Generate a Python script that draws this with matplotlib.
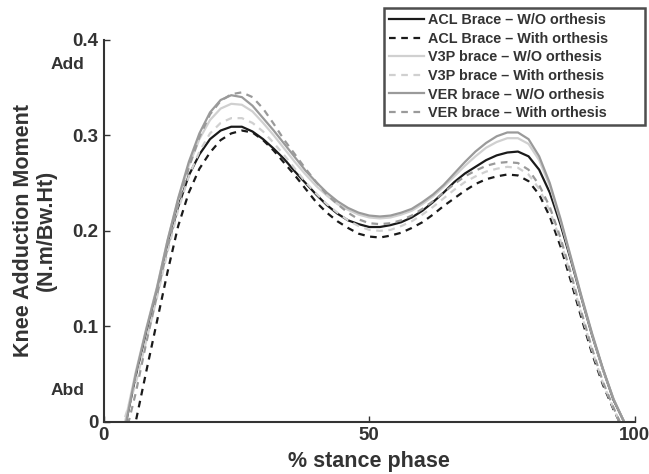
import matplotlib
matplotlib.use('Agg')
import matplotlib.pyplot as plt

plt.rcParams['font.family'] = ['Liberation Sans', 'DejaVu Sans']
plt.rcParams['font.weight'] = 'bold'

# % stance phase sample points (every 2 %)
stance = list(range(4, 99, 2))

acl_wo = [-0.005, 0.048, 0.095, 0.138, 0.185, 0.225, 0.258, 0.280,
          0.296, 0.305, 0.309, 0.309, 0.304, 0.296, 0.286, 0.275,
          0.262, 0.250, 0.238, 0.227, 0.218, 0.211, 0.207, 0.204,
          0.204, 0.206, 0.209, 0.214, 0.221, 0.230, 0.240, 0.251,
          0.260, 0.267, 0.274, 0.279, 0.282, 0.283, 0.278, 0.264,
          0.240, 0.207, 0.169, 0.129, 0.090, 0.055, 0.023, 0.000]
acl_with = [-0.020, 0.000, 0.053, 0.105, 0.157, 0.205, 0.240, 0.265,
            0.282, 0.295, 0.302, 0.305, 0.303, 0.295, 0.284, 0.271,
            0.258, 0.244, 0.230, 0.219, 0.210, 0.203, 0.197, 0.194,
            0.193, 0.195, 0.198, 0.203, 0.209, 0.217, 0.226, 0.234,
            0.242, 0.249, 0.254, 0.257, 0.259, 0.258, 0.252, 0.238,
            0.215, 0.184, 0.147, 0.108, 0.071, 0.039, 0.013, -0.010]
v3p_wo = [0.000, 0.052, 0.098, 0.141, 0.190, 0.233, 0.268, 0.296,
          0.316, 0.328, 0.333, 0.332, 0.325, 0.313, 0.300, 0.286,
          0.272, 0.259, 0.247, 0.237, 0.228, 0.222, 0.217, 0.214,
          0.213, 0.214, 0.217, 0.221, 0.228, 0.236, 0.246, 0.257,
          0.268, 0.278, 0.287, 0.293, 0.297, 0.297, 0.291, 0.274,
          0.247, 0.211, 0.171, 0.130, 0.091, 0.055, 0.024, 0.000]
v3p_with = [0.005, 0.040, 0.085, 0.130, 0.178, 0.222, 0.257, 0.283,
            0.302, 0.313, 0.318, 0.318, 0.313, 0.304, 0.292, 0.279,
            0.265, 0.251, 0.239, 0.228, 0.219, 0.211, 0.205, 0.201,
            0.200, 0.201, 0.205, 0.210, 0.217, 0.225, 0.234, 0.243,
            0.251, 0.257, 0.262, 0.265, 0.267, 0.266, 0.259, 0.244,
            0.221, 0.190, 0.152, 0.112, 0.074, 0.041, 0.014, -0.010]
ver_wo = [-0.006, 0.050, 0.097, 0.140, 0.190, 0.234, 0.272, 0.302,
          0.324, 0.337, 0.342, 0.340, 0.331, 0.318, 0.305, 0.291,
          0.277, 0.263, 0.251, 0.240, 0.231, 0.224, 0.219, 0.216,
          0.215, 0.216, 0.219, 0.223, 0.230, 0.238, 0.248, 0.260,
          0.272, 0.283, 0.292, 0.299, 0.303, 0.303, 0.296, 0.278,
          0.250, 0.213, 0.172, 0.131, 0.092, 0.056, 0.024, 0.000]
ver_with = [-0.015, 0.030, 0.083, 0.132, 0.182, 0.227, 0.266, 0.298,
            0.322, 0.336, 0.343, 0.345, 0.340, 0.328, 0.312, 0.295,
            0.280, 0.265, 0.251, 0.238, 0.228, 0.219, 0.212, 0.208,
            0.207, 0.208, 0.211, 0.216, 0.223, 0.231, 0.240, 0.249,
            0.257, 0.263, 0.268, 0.271, 0.272, 0.271, 0.264, 0.248,
            0.225, 0.193, 0.155, 0.114, 0.076, 0.042, 0.015, -0.010]

fig = plt.figure(figsize=(6.49, 4.74), dpi=100)
ax = fig.add_axes([0.160, 0.110, 0.818, 0.806])

dash = (0, (3, 2.5))
ax.plot(stance, acl_wo, color='#1a1a1a', lw=1.6, label='ACL Brace \u2013 W/O orthesis')
ax.plot(stance, acl_with, color='#1a1a1a', lw=1.6, ls=dash, label='ACL Brace \u2013 With orthesis')
ax.plot(stance, v3p_wo, color='#d0d0d0', lw=1.6, label='V3P brace \u2013 W/O orthesis')
ax.plot(stance, v3p_with, color='#d0d0d0', lw=1.6, ls=dash, label='V3P brace \u2013 With orthesis')
ax.plot(stance, ver_wo, color='#9a9a9a', lw=1.6, label='VER brace \u2013 W/O orthesis')
ax.plot(stance, ver_with, color='#9a9a9a', lw=1.6, ls=dash, label='VER brace \u2013 With orthesis')

ax.set_xlim(0, 100)
ax.set_ylim(0, 0.4)
ax.set_xticks([0, 50, 100])
ax.set_yticks([0, 0.1, 0.2, 0.3, 0.4])
ax.set_yticklabels(['0', '0.1', '0.2', '0.3', '0.4'])
ax.tick_params(direction='in', length=4, width=1, labelsize=13.5, colors='#333333', pad=4)
for s in ['top', 'right']:
    ax.spines[s].set_visible(False)
for s in ['left', 'bottom']:
    ax.spines[s].set_linewidth(1.5)
    ax.spines[s].set_color('#333333')

ax.set_xlabel('% stance phase', fontsize=15.5, fontweight='bold', color='#333333', labelpad=5)
ax.set_ylabel('Knee Adduction Moment\n(N.m/Bw.Ht)', fontsize=15.5, fontweight='bold',
              color='#333333', linespacing=1.12)
ax.yaxis.set_label_coords(-0.088, 0.5)
ax.text(-0.068, 0.935, 'Add', transform=ax.transAxes, ha='center', va='center',
        fontsize=12.5, fontweight='bold', color='#333333')
ax.text(-0.068, 0.083, 'Abd', transform=ax.transAxes, ha='center', va='center',
        fontsize=12.5, fontweight='bold', color='#333333')

# legend box spans the reference's frame, text kept left aligned
leg_top = 1 - 8 / 474
leg = fig.legend(loc='upper left', bbox_to_anchor=(384 / 649, leg_top - 0.3, 261 / 649, 0.3),
                 mode='expand', fontsize=10.4, frameon=True, fancybox=False,
                 handlelength=2.4, handletextpad=0.3, labelspacing=0.32,
                 borderpad=0.35, borderaxespad=0)
leg.get_frame().set_edgecolor('#222222')
leg.get_frame().set_linewidth(1.8)
for t in leg.get_texts():
    t.set_color('#333333')

fig.savefig('out.png', dpi=100)
